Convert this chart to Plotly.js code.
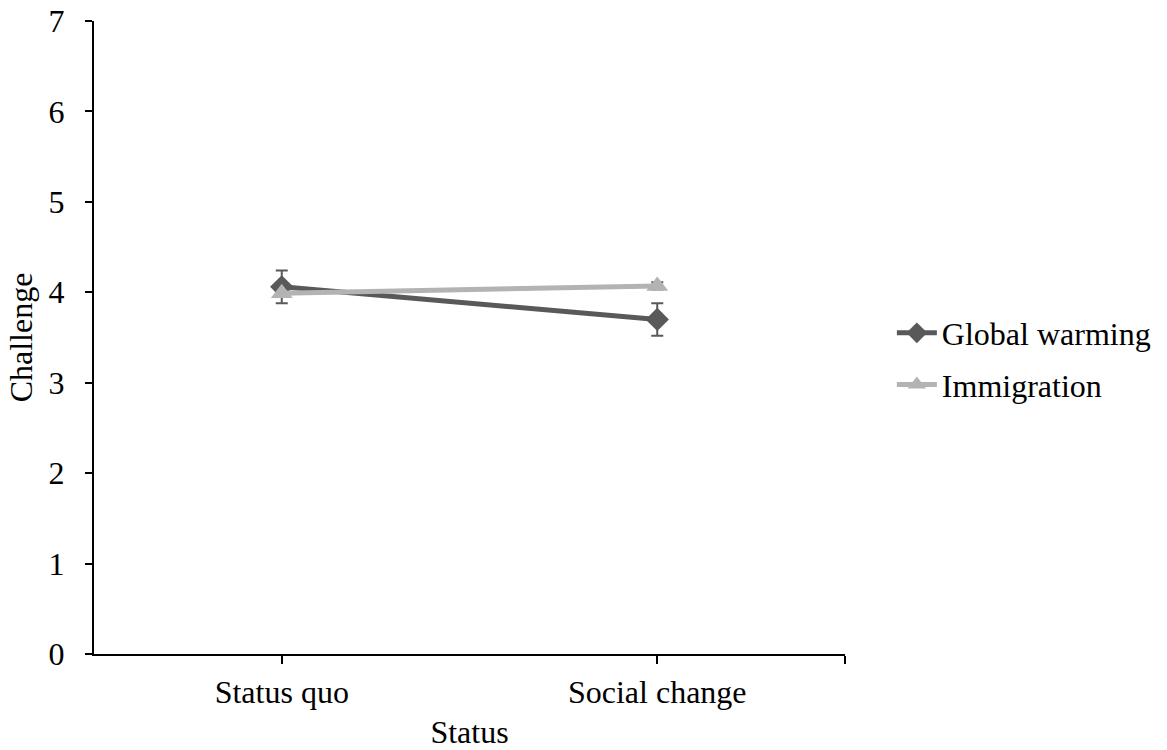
<!DOCTYPE html>
<html><head><meta charset="utf-8">
<script src="https://cdn.plot.ly/plotly-3.0.1.min.js"></script>
<style>html,body{margin:0;padding:0;background:#fff}</style>
</head><body><div id="chart" style="width:1167px;height:750px"></div>
<script>
const categories = ["Status quo", "Social change"];
const seriesNames = ["Global warming", "Immigration"];
const globalWarming = [4.06, 3.70];
const globalWarmingErr = [0.18, 0.18];
const immigration = [3.99, 4.07];
const immigrationErr = [0.04, 0.04];
const yTicks = [0, 1, 2, 3, 4, 5, 6, 7];

const xIdx = categories.map((c, i) => i);
const font = {family: "Liberation Serif, Times New Roman, serif", color: "#000"};
const fs = 32;

const traces = [
  {x: xIdx, y: globalWarming, name: seriesNames[0], legendgroup: "a", type: "scatter", mode: "lines+markers",
   line: {color: "#595959", width: 5},
   marker: {symbol: "diamond", size: 18, color: "#595959"},
   error_y: {type: "data", array: globalWarmingErr, visible: true, color: "#595959", thickness: 2, width: 6}},
  {x: xIdx, y: immigration, name: seriesNames[1], legendgroup: "b", type: "scatter", mode: "lines+markers",
   line: {color: "#b3b3b3", width: 5},
   marker: {symbol: "triangle-up", size: 19, color: "#b3b3b3"},
   error_y: {type: "data", array: immigrationErr, visible: true, color: "#595959", thickness: 2, width: 6}}
];

const layout = {
  width: 1167, height: 750,
  margin: {l: 94, r: 321, t: 21, b: 96},
  paper_bgcolor: "#fff", plot_bgcolor: "#fff",
  font: Object.assign({size: fs}, font),
  showlegend: true,
  legend: {x: 1.061, y: 0.466, xanchor: "left", yanchor: "middle", font: Object.assign({size: fs}, font),
           itemwidth: 40, traceorder: "grouped", tracegroupgap: 7, bgcolor: "rgba(0,0,0,0)"},
  xaxis: {range: [-0.5, 1.5], tickmode: "array", tickvals: [0, 1, 1.5], ticktext: categories.concat([""]),
          showgrid: false, zeroline: false, showline: true, linecolor: "#000", linewidth: 2,
          ticks: "outside", ticklen: 8, tickwidth: 2, tickcolor: "#000",
          tickfont: Object.assign({size: fs}, font), ticklabelstandoff: 1,
          title: {text: "Status", font: Object.assign({size: fs}, font), standoff: 21}},
  yaxis: {range: [0, 7], tickmode: "array", tickvals: yTicks,
          showgrid: false, zeroline: false, showline: true, linecolor: "#000", linewidth: 2,
          ticks: "outside", ticklen: 7, tickwidth: 2, tickcolor: "#000",
          tickfont: Object.assign({size: fs}, font), ticklabelstandoff: 14,
          title: {text: "Challenge", font: Object.assign({size: fs}, font), standoff: 6}}
};

Plotly.newPlot("chart", traces, layout, {displayModeBar: false, staticPlot: true});
</script></body></html>
